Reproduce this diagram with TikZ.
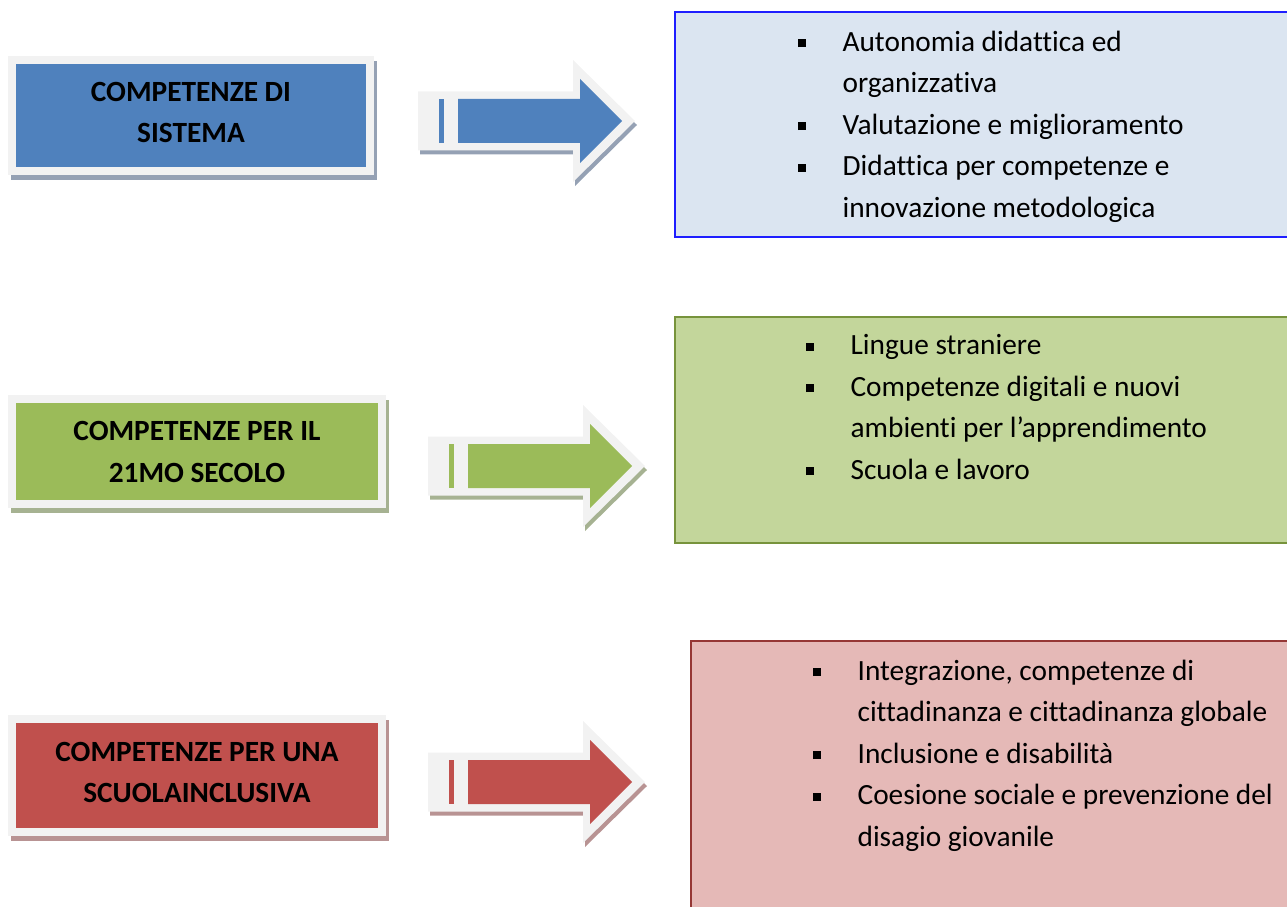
\documentclass[tikz,border=0pt]{standalone}
\usepackage{fontspec}
\setmainfont{Carlito}[Ligatures=NoCommon]
\definecolor{framegray}{HTML}{F2F2F2}
\definecolor{sysblue}{HTML}{4F81BD}
\definecolor{sysshade}{HTML}{95A1B4}
\definecolor{sysfill}{HTML}{DBE5F1}
\definecolor{sysline}{HTML}{1E1EFF}
\definecolor{secgreen}{HTML}{9BBB59}
\definecolor{secshade}{HTML}{A6B292}
\definecolor{secfill}{HTML}{C3D69B}
\definecolor{secline}{HTML}{77933C}
\definecolor{incred}{HTML}{C0504D}
\definecolor{incshade}{HTML}{B89393}
\definecolor{incfill}{HTML}{E5B9B7}
\definecolor{incline}{HTML}{953735}
\newcommand\sqbullet{\makebox[16.9pt][l]{\raisebox{1.5pt}{\rule{3pt}{3pt}}}}
\newcommand\indnt{\hspace*{16.9pt}}
% block arrow: (left,middle){colour}{shadow}
\def\blockarrow(#1,#2)#3#4{%
  \begin{scope}[shift={(#1,#2)}]
    \fill[#4,shift={(2,4)}] (0,-29.5) -- (155,-29.5) -- (155,-61) -- (217,0) -- (155,61) -- (155,29.5) -- (0,29.5) -- cycle;
    \fill[framegray] (0,-29.5) -- (155,-29.5) -- (155,-61) -- (217,0) -- (155,61) -- (155,29.5) -- (0,29.5) -- cycle;
    \fill[#3] (21,-22) rectangle (26,22);
    \fill[#3] (40,-22) -- (162,-22) -- (162,-42) -- (204,0) -- (162,42) -- (162,22) -- (40,22) -- cycle;
  \end{scope}}

\begin{document}
\begin{tikzpicture}[x=0.375pt,y=-0.375pt,
    lefttext/.style={align=center,inner sep=0pt,font=\fontsize{11}{15.4}\selectfont\bfseries},
    itemlist/.style={align=left,inner sep=0pt,anchor=base west,font=\fontsize{11}{15.56}\selectfont}]
  \useasboundingbox (0,0) rectangle (1287,906);

  %%%%% LEFT BOXES %%%%%
  \fill[sysshade] (11,61) rectangle (377,180);
  \fill[framegray] (8,56) rectangle (374,175);
  \fill[sysblue] (16,64) rectangle (366,167);
  \node[lefttext] (sys) at (191,112.5) {COMPETENZE DI\\SISTEMA};

  \fill[secshade] (11,400) rectangle (389,513);
  \fill[framegray] (8,395) rectangle (386,508);
  \fill[secgreen] (16,403) rectangle (378,500);
  \node[lefttext] (sec) at (197,452) {COMPETENZE PER IL\\21MO SECOLO};

  \fill[incshade] (11,720) rectangle (389,841);
  \fill[framegray] (8,715) rectangle (386,836);
  \fill[incred] (16,723) rectangle (378,828);
  \node[lefttext] (inc) at (197,772.5) {COMPETENZE PER UNA\\SCUOLAINCLUSIVA};

  %%%%% ARROWS %%%%%
  \blockarrow(418,121){sysblue}{sysshade}
  \blockarrow(428,466){secgreen}{secshade}
  \blockarrow(428,782){incred}{incshade}

  %%%%% RIGHT BOXES %%%%%
  % lists are placed by the baseline of their last line
  \draw[sysline,fill=sysfill,line width=0.8pt] (675,12) rectangle (1300,237);
  \node[itemlist] (sysitems) at (797,217) {\sqbullet Autonomia didattica ed\\
    \indnt organizzativa\\
    \sqbullet Valutazione e miglioramento\\
    \sqbullet Didattica per competenze e\\
    \indnt innovazione metodologica};

  \draw[secline,fill=secfill,line width=0.8pt] (675,317) rectangle (1300,543);
  \node[itemlist] (secitems) at (805,479) {\sqbullet Lingue straniere\\
    \sqbullet Competenze digitali e nuovi\\
    \indnt ambienti per l’apprendimento\\
    \sqbullet Scuola e lavoro};

  \draw[incline,fill=incfill,line width=0.8pt] (691,641) rectangle (1300,920);
  \node[itemlist] (incitems) at (812,846) {\sqbullet Integrazione, competenze di\\
    \indnt cittadinanza e cittadinanza globale\\
    \sqbullet Inclusione e disabilità\\
    \sqbullet Coesione sociale e prevenzione del\\
    \indnt disagio giovanile};
\end{tikzpicture}
\end{document}
